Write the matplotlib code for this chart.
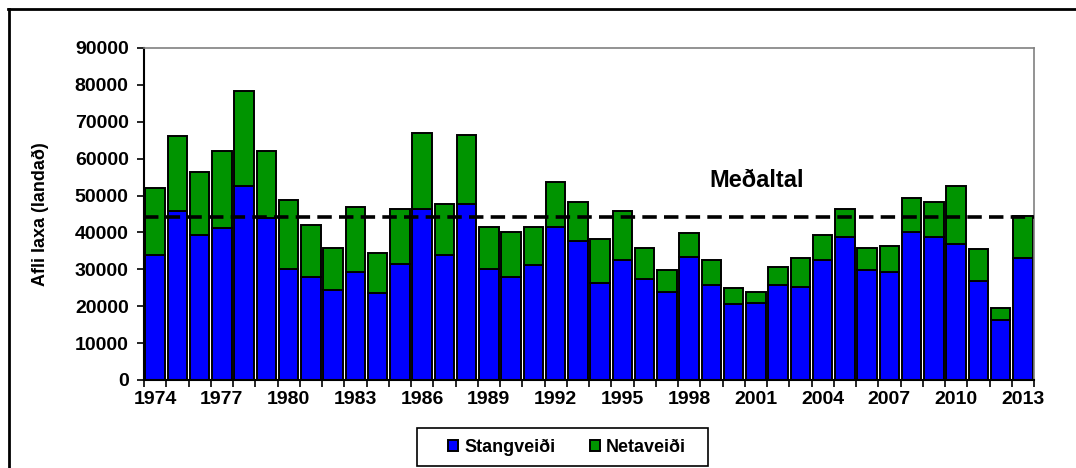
import matplotlib
matplotlib.use("Agg")
import matplotlib.pyplot as plt
import numpy as np
from matplotlib.lines import Line2D
from matplotlib.patches import Rectangle

plt.rcParams['font.family'] = ['Liberation Sans', 'DejaVu Sans']
plt.rcParams['font.weight'] = 'bold'

# Afli laxa 1974-2013
years = list(range(1974, 2014))
stangveidi = [34000, 45900, 39200, 41100, 52600, 43900, 30100, 27800, 24400, 29200,
              23500, 31500, 46400, 34000, 47800, 30100, 27800, 31100, 41600, 37800,
              26300, 32500, 27300, 23900, 33400, 25800, 20500, 21000, 25800, 25300,
              32500, 38800, 29700, 29200, 40200, 38800, 36900, 26800, 16300, 33000]
heildarafli = [52000, 66100, 56400, 62200, 78400, 62200, 48800, 42100, 35900, 46900,
               34400, 46400, 67000, 47800, 66500, 41600, 40200, 41600, 53600, 48300,
               38200, 45900, 35900, 29700, 39800, 32500, 24900, 23900, 30600, 33000,
               39200, 46400, 35900, 36300, 49300, 48300, 52600, 35400, 19600, 44400]
netaveidi = [t - s for t, s in zip(heildarafli, stangveidi)]
medaltal = 44300

fig = plt.figure(figsize=(10.76, 4.68), dpi=100)
ax = fig.add_axes([144 / 1076, 1 - 380 / 468, 890 / 1076, 332 / 468])

x = np.arange(len(years))
ax.bar(x, stangveidi, width=0.88, color='#0000FF', edgecolor='black', linewidth=1.4,
       label='Stangveiði', zorder=2)
ax.bar(x, netaveidi, bottom=stangveidi, width=0.88, color='#009400', edgecolor='black',
       linewidth=1.4, label='Netaveiði', zorder=2)
ax.axhline(medaltal, color='black', linestyle=(0, (4, 2)), linewidth=2.6, zorder=3)
ax.text(27.05, 54000, 'Meðaltal', fontsize=17, fontweight='bold', ha='center', va='center')

ax.set_xlim(-0.5, len(years) - 0.5)
ax.set_ylim(0, 90000)
ax.set_yticks(range(0, 90001, 10000))
ax.set_yticklabels([str(v) for v in range(0, 90001, 10000)], fontsize=14, fontweight='bold')
ax.set_xticks(x[::3])
ax.set_xticklabels([str(y) for y in years[::3]], fontsize=14, fontweight='bold')
ax.set_xticks(np.arange(-0.5, len(years), 1), minor=True)
ax.tick_params(axis='x', which='major', length=0, pad=8)
ax.tick_params(axis='x', which='minor', length=5, width=1.2, direction='out')
ax.tick_params(axis='y', length=5, width=1.2, direction='out', pad=6)
ax.set_ylabel('Afli laxa (landað)', fontsize=13, fontweight='bold')
ax.yaxis.set_label_coords(-0.107, 0.5)

for side in ['left', 'bottom']:
    ax.spines[side].set_linewidth(1.5)
for side in ['top', 'right']:
    ax.spines[side].set_color('#808080')
    ax.spines[side].set_linewidth(1.2)

leg = fig.legend(loc='center', bbox_to_anchor=(567 / 1076, 1 - 447 / 468), ncol=2,
                 frameon=False, handlelength=0.55, handleheight=0.55,
                 handletextpad=0.35, columnspacing=1.9, borderpad=0.3,
                 borderaxespad=0, prop={'weight': 'bold', 'size': 13})
# legend frame, wider than the entries as in the original
fig.add_artist(Rectangle((417 / 1076, 1 - 466 / 468), 291 / 1076, 38 / 468,
                         transform=fig.transFigure, fill=False, edgecolor='black',
                         linewidth=1.2))

# outer frame of the chart
fig.add_artist(Line2D([8 / 1076, 1.0], [1 - 8.5 / 468, 1 - 8.5 / 468], color='black',
                      linewidth=2, transform=fig.transFigure))
fig.add_artist(Line2D([8.5 / 1076, 8.5 / 1076], [0, 1 - 8.5 / 468], color='black',
                      linewidth=2, transform=fig.transFigure))

fig.savefig('out.png', dpi=100)
